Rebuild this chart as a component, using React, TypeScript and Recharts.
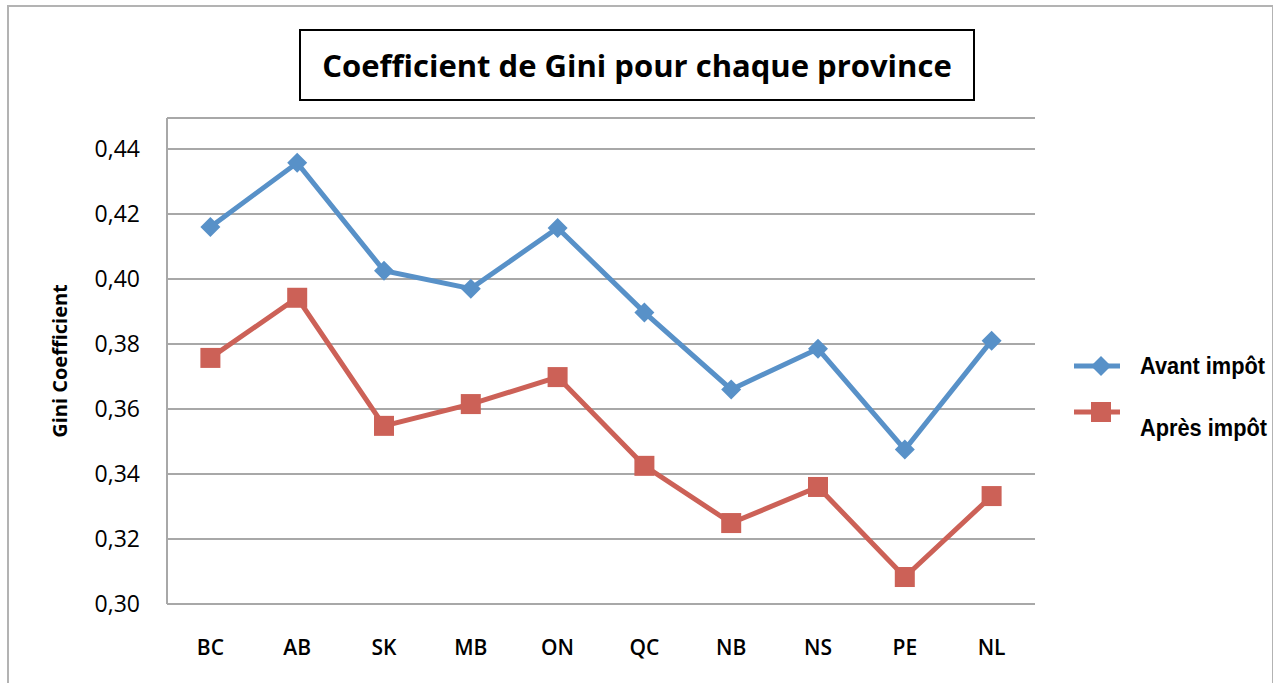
import React from "react";
import { LineChart, Line, XAxis, YAxis, CartesianGrid, Legend } from "recharts";

const provinces = ["BC", "AB", "SK", "MB", "ON", "QC", "NB", "NS", "PE", "NL"];
const avantImpot = [0.416, 0.4357, 0.4025, 0.397, 0.4157, 0.3897, 0.366, 0.3785, 0.3475, 0.381];
const apresImpot = [0.3757, 0.3942, 0.3548, 0.3615, 0.3698, 0.3425, 0.3249, 0.336, 0.3083, 0.3332];
const yTicks = [0.3, 0.32, 0.34, 0.36, 0.38, 0.4, 0.42, 0.44];

const BLUE = "#5891c8";
const RED = "#cc6157";
const GRID = "#a8a8a8";
const CALIBRI = "'Open Sans', 'Noto Sans', sans-serif";
const NARROW = "'Liberation Sans Narrow', 'Arial Narrow', 'Liberation Sans', sans-serif";

const data = provinces.map((p, i) => ({
  province: p,
  avant: avantImpot[i],
  apres: apresImpot[i],
}));

const Diamond = ({ cx, cy, fill }: { cx: number; cy: number; fill: string }) => (
  <path d={`M${cx},${cy - 10} L${cx + 10},${cy} L${cx},${cy + 10} L${cx - 10},${cy} Z`} fill={fill} />
);

const Square = ({ cx, cy, fill }: { cx: number; cy: number; fill: string }) => (
  <rect x={cx - 10} y={cy - 10} width={20} height={20} fill={fill} />
);

function renderLegend() {
  return (
    <svg width={203} height={110} style={{ display: "block" }}>
      <line x1={4} y1={21} x2={50} y2={21} stroke={BLUE} strokeWidth={5} />
      <Diamond cx={31} cy={21} fill={BLUE} />
      <text x={70} y={21} dy="0.35em" fontFamily={NARROW} fontWeight="bold" fontSize={23} fill="#000"
        textLength={125} lengthAdjust="spacingAndGlyphs">
        Avant impôt
      </text>
      <line x1={4} y1={67} x2={50} y2={67} stroke={RED} strokeWidth={5} />
      <Square cx={31} cy={67} fill={RED} />
      <text x={70} y={83} dy="0.35em" fontFamily={NARROW} fontWeight="bold" fontSize={23} fill="#000"
        textLength={127} lengthAdjust="spacingAndGlyphs">
        Après impôt
      </text>
    </svg>
  );
}

export default function App() {
  return (
    <div
      style={{
        position: "absolute",
        left: 0,
        top: 0,
        width: 1273,
        height: 683,
        background: "#fff",
        overflow: "hidden",
      }}
    >
      <div
        style={{
          position: "absolute",
          left: 7,
          top: 5,
          width: 1263,
          height: 690,
          border: "2px solid #b3b3b3",
        }}
      />
      <LineChart
        width={1273}
        height={683}
        data={data}
        margin={{ top: 118, right: 35, bottom: 19, left: 107 }}
      >
        <CartesianGrid vertical={false} stroke={GRID} strokeWidth={2} />
        <XAxis
          dataKey="province"
          height={60}
          padding={{ left: 43.4, right: 43.4 }}
          axisLine={{ stroke: GRID, strokeWidth: 2 }}
          tickLine={false}
          tickSize={0}
          tickMargin={36}
          tick={{ fill: "#000", fontSize: 21, fontFamily: CALIBRI, fontWeight: 600 }}
          interval={0}
        />
        <YAxis
          width={60}
          domain={[0.3, 0.4495]}
          ticks={yTicks}
          allowDataOverflow
          axisLine={{ stroke: GRID, strokeWidth: 2 }}
          tickLine={false}
          tickSize={0}
          tickMargin={27}
          tickFormatter={(v: number) => v.toFixed(2).replace(".", ",")}
          tick={{ fill: "#000", fontSize: 23, fontFamily: CALIBRI }}
          label={{
            value: "Gini Coefficient",
            angle: -90,
            position: "insideLeft",
            offset: -47,
            style: { fill: "#000", fontSize: 20, fontFamily: CALIBRI, fontWeight: "bold", textAnchor: "middle" },
          }}
        />
        <Legend
          layout="vertical"
          verticalAlign="top"
          align="right"
          content={renderLegend}
          wrapperStyle={{ position: "absolute", left: 1070, top: 345, width: 203 }}
        />
        <Line
          dataKey="avant"
          name="Avant impôt"
          stroke={BLUE}
          strokeWidth={5}
          dot={(p: any) => <Diamond key={`a${p.index}`} cx={p.cx} cy={p.cy} fill={BLUE} />}
          activeDot={false}
          isAnimationActive={false}
        />
        <Line
          dataKey="apres"
          name="Après impôt"
          stroke={RED}
          strokeWidth={5}
          dot={(p: any) => <Square key={`r${p.index}`} cx={p.cx} cy={p.cy} fill={RED} />}
          activeDot={false}
          isAnimationActive={false}
        />
      </LineChart>
      <div
        style={{
          position: "absolute",
          left: 299,
          top: 29,
          width: 672,
          height: 68,
          border: "2px solid #000",
          display: "flex",
          alignItems: "center",
          justifyContent: "center",
          fontFamily: CALIBRI,
          fontWeight: "bold",
          fontSize: 31,
          color: "#000",
        }}
      >
        Coefficient de Gini pour chaque province
      </div>
    </div>
  );
}
